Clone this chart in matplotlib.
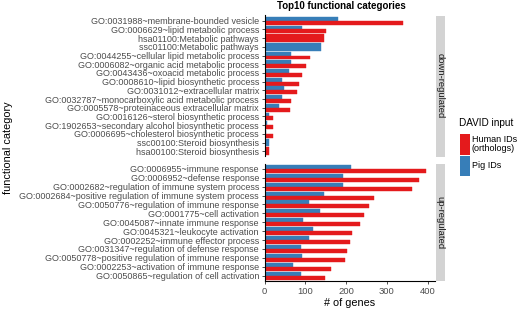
import numpy as np
import matplotlib
matplotlib.use("Agg")
import matplotlib.pyplot as plt
from matplotlib.patches import Rectangle

plt.rcParams['font.family'] = ['Liberation Sans', 'DejaVu Sans']

# ---- data ----
down_terms = ["GO:0031988~membrane-bounded vesicle",
              "GO:0006629~lipid metabolic process",
              "hsa01100:Metabolic pathways",
              "ssc01100:Metabolic pathways",
              "GO:0044255~cellular lipid metabolic process",
              "GO:0006082~organic acid metabolic process",
              "GO:0043436~oxoacid metabolic process",
              "GO:0008610~lipid biosynthetic process",
              "GO:0031012~extracellular matrix",
              "GO:0032787~monocarboxylic acid metabolic process",
              "GO:0005578~proteinaceous extracellular matrix",
              "GO:0016126~sterol biosynthetic process",
              "GO:1902653~secondary alcohol biosynthetic process",
              "GO:0006695~cholesterol biosynthetic process",
              "ssc00100:Steroid biosynthesis",
              "hsa00100:Steroid biosynthesis"]
down_human = [340, 150, 145, np.nan, 111, 102, 92, 84, 79, 65, 62, 22, 20, 20, np.nan, 12]
down_pig = [180, 92, np.nan, 139, 66, 65, 59, 43, 47, 43, 35, 10, 6, 4, 12, np.nan]

up_terms = ["GO:0006955~immune response",
            "GO:0006952~defense response",
            "GO:0002682~regulation of immune system process",
            "GO:0002684~positive regulation of immune system process",
            "GO:0050776~regulation of immune response",
            "GO:0001775~cell activation",
            "GO:0045087~innate immune response",
            "GO:0045321~leukocyte activation",
            "GO:0002252~immune effector process",
            "GO:0031347~regulation of defense response",
            "GO:0050778~positive regulation of immune response",
            "GO:0002253~activation of immune response",
            "GO:0050865~regulation of cell activation"]
up_human = [397, 379, 362, 269, 255, 245, 233, 215, 210, 202, 198, 164, 149]
up_pig = [213, 192, 192, 147, 110, 135, 94, 120, 108, 90, 92, 70, 90]

groups = ["down-regulated", "up-regulated"]
legend_labels = ["Human IDs\n(orthologs)", "Pig IDs"]
x_ticks = [0, 100, 200, 300, 400]

red = "#E41A1C"
blue = "#377EB8"
W, H = 520, 310


def px(x0, y0, x1, y1):
    return [x0 / W, 1 - y1 / H, (x1 - x0) / W, (y1 - y0) / H]


fig = plt.figure(figsize=(5.2, 3.1), dpi=100)

panels = [(down_terms, down_human, down_pig, (15.5, 156.5)),
          (up_terms, up_human, up_pig, (163.5, 281))]

for k, (terms, human, pig, (ytop, ybot)) in enumerate(panels):
    ax = fig.add_axes(px(264.5, ytop, 435, ybot))
    n = len(terms)
    for i in range(n):
        h, p = human[i], pig[i]
        if not np.isnan(h) and not np.isnan(p):
            ax.barh(i - 0.225, p, height=0.45, color=blue, edgecolor=blue, linewidth=0.3)
            ax.barh(i + 0.225, h, height=0.45, color=red, edgecolor=red, linewidth=0.3)
        elif not np.isnan(h):
            ax.barh(i, h, height=0.9, color=red, edgecolor=red, linewidth=0.3)
        else:
            ax.barh(i, p, height=0.9, color=blue, edgecolor=blue, linewidth=0.3)
    ax.set_ylim(n - 0.4, -0.6)
    ax.set_xlim(0, 418)
    ax.set_yticks(range(n))
    ax.set_yticklabels(terms, fontsize=6.5, color="#4D4D4D")
    ax.tick_params(axis="y", length=2.5, width=0.6, pad=1.5, color="#333333")
    for s in ["top", "right"]:
        ax.spines[s].set_visible(False)
    ax.spines["left"].set_linewidth(0.8)
    if k == 0:
        ax.spines["bottom"].set_visible(False)
        ax.set_xticks([])
    else:
        ax.spines["bottom"].set_linewidth(0.8)
        ax.set_xticks(x_ticks)
        ax.set_xticklabels([str(t) for t in x_ticks], fontsize=6.8, color="#4D4D4D")
        ax.tick_params(axis="x", length=2.5, width=0.6, pad=1.5, color="#333333")
        ax.set_xlabel("# of genes", fontsize=7.8, labelpad=2)

    # facet strip
    sax = fig.add_axes(px(435.5, ytop, 444.5, ybot))
    sax.set_facecolor("#D3D3D3")
    sax.set_xticks([])
    sax.set_yticks([])
    for s in sax.spines.values():
        s.set_visible(False)
    sax.text(0.5, 0.5, groups[k], rotation=270, ha="center", va="center",
             fontsize=6.8, color="#1A1A1A", transform=sax.transAxes)

fig.text(341 / W, 1 - 6 / H, "Top10 functional categories", ha="center", va="center",
         fontsize=7, fontweight="bold")
fig.text(8 / W, 1 - 148 / H, "functional category", rotation=90, ha="center", va="center",
         fontsize=7.8)

# legend
fig.text(459 / W, 1 - 123 / H, "DAVID input", ha="left", va="center", fontsize=7.2)
for j, (lab, col) in enumerate(zip(legend_labels, [red, blue])):
    y0 = 134.5 + j * 21.5
    fig.add_artist(Rectangle((460 / W, 1 - (y0 + 20) / H), 10 / W, 20 / H,
                             transform=fig.transFigure, facecolor=col, edgecolor="none"))
    fig.text(472 / W, 1 - (y0 + 10) / H, lab, ha="left", va="center", fontsize=6.5,
             linespacing=1.0)

fig.savefig("out.png", dpi=100)
